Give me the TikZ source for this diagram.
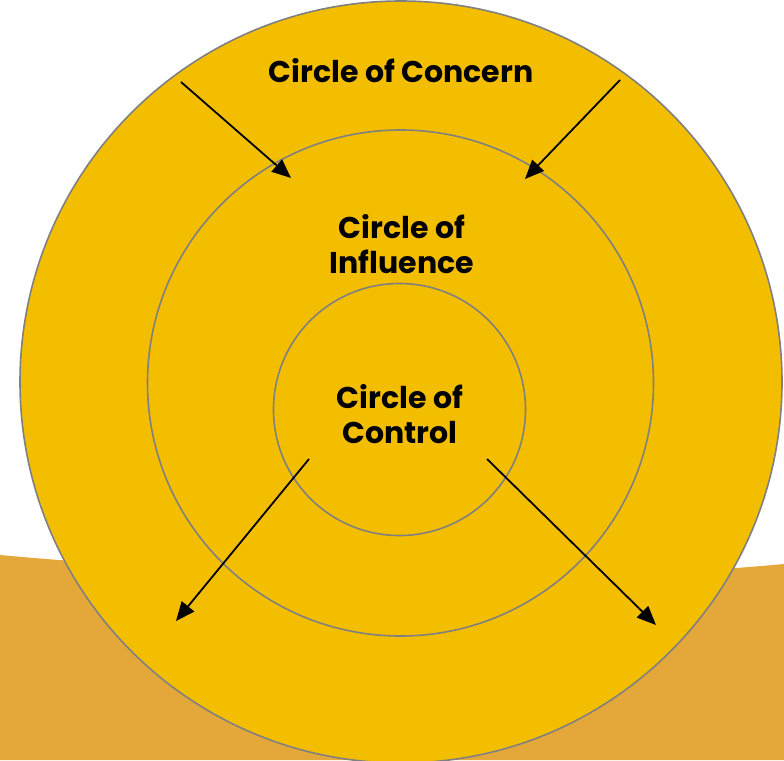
\documentclass[tikz,border=0pt]{standalone}
\usepackage{fontspec}
\setmainfont{Poppins}
\usetikzlibrary{arrows.meta}
\definecolor{ring}{HTML}{F4BE00}
\definecolor{band}{HTML}{E4A83A}
\definecolor{edge}{HTML}{808080}
\tikzset{
  circ/.style={draw=edge, line width=1.6pt, fill=ring},
  lbl/.style={font=\bfseries\fontsize{30}{35}\selectfont, align=center, text=black, inner sep=0pt},
  arr/.style={line width=1.8pt, -{Triangle[length=19pt,width=16pt]}}
}
\begin{document}
\begin{tikzpicture}[x=1pt,y=-1pt]
\useasboundingbox (0,0) rectangle (784,760);
\fill[white] (0,0) rectangle (784,760);
\fill[band] (0,555) .. controls (250,578) and (560,585) .. (784,564) -- (784,760) -- (0,760) -- cycle;
\node[circ, circle, minimum size=762pt, inner sep=0pt] (outer) at (401,382) {};
\node[circ, circle, minimum size=506pt, inner sep=0pt] (mid) at (400.5,383) {};
\node[circ, circle, minimum size=252pt, inner sep=0pt] (inner) at (399.5,409.5) {};
\node[lbl] (tconcern) at (401,71) {Circle of Concern};
\node[lbl] (tinfl) at (402,244) {Circle of\\Influence};
\node[lbl] (tctrl) at (400,414) {Circle of\\Control};
\coordinate (a1s) at (181,82); \coordinate (a1e) at (291,178);
\coordinate (a2s) at (620,80); \coordinate (a2e) at (525,179);
\coordinate (a3s) at (309,459); \coordinate (a3e) at (176,621);
\coordinate (a4s) at (487,459); \coordinate (a4e) at (656,625);
\draw[arr] (a1s) -- (a1e);
\draw[arr] (a2s) -- (a2e);
\draw[arr] (a3s) -- (a3e);
\draw[arr] (a4s) -- (a4e);
\end{tikzpicture}
\end{document}
